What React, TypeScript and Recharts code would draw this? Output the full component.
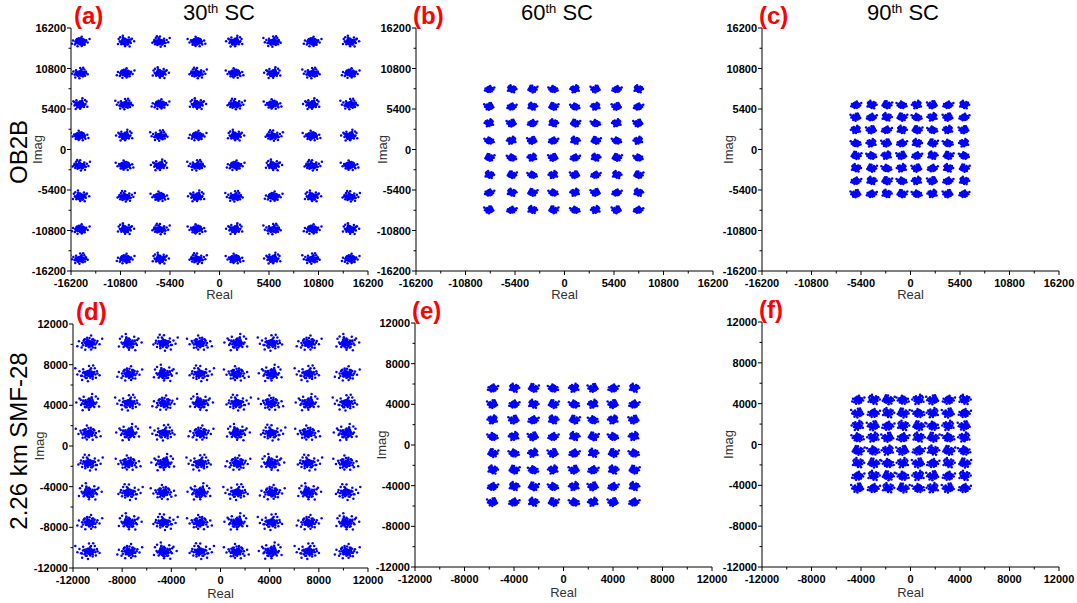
import React from "react";
import { ScatterChart, Scatter, XAxis, YAxis } from "recharts";

const COLS_A = [-15200, -10300, -6500, -2450, 1700, 5850, 10100, 14250];
const ROWS_A = [14350, 10150, 6000, 1800, -2150, -6300, -10650, -14600];
const COLS_B = [-8200, -5760, -3510, -1220, 1150, 3400, 5700, 8050];
const ROWS_B = [8030, 5710, 3490, 1170, -1090, -3400, -5760, -8070];
const COLS_C = [-5950, -4250, -2600, -950, 700, 2400, 4100, 5850];
const ROWS_C = [5930, 4290, 2600, 830, -830, -2510, -4200, -5930];
const COLS_D = [-10700, -7450, -4600, -1650, 1350, 4150, 7150, 10250];
const ROWS_D = [10100, 7080, 4200, 1250, -1700, -4590, -7540, -10400];
const COLS_E = [-5720, -4000, -2440, -830, 870, 2400, 4020, 5700];
const ROWS_E = [5580, 4000, 2460, 820, -820, -2460, -4100, -5640];
const COLS_F = [-4250, -2990, -1820, -610, 650, 1810, 3070, 4360];
const ROWS_F = [4360, 3060, 1810, 670, -610, -1840, -3090, -4290];

const TICKS_OB2B = [-16200, -13500, -10800, -8100, -5400, -2700, 0, 2700, 5400, 8100, 10800, 13500, 16200];
const MAJOR_OB2B = [-16200, -10800, -5400, 0, 5400, 10800, 16200];
const TICKS_SMF = [-12000, -10000, -8000, -6000, -4000, -2000, 0, 2000, 4000, 6000, 8000, 10000, 12000];
const MAJOR_SMF = [-12000, -8000, -4000, 0, 4000, 8000, 12000];

// hand-drawn noise cloud shapes (offsets around a symbol, in units of the spread)
const CLOUD_1 = [
  [0, 0], [0.35, 0.1], [-0.3, 0.15], [0.1, -0.4], [-0.25, -0.3], [0.6, -0.15],
  [-0.65, 0.05], [0.4, 0.5], [-0.45, 0.45], [0.05, 0.65], [0.2, -0.75], [-0.7, -0.5],
  [0.8, 0.3], [-0.15, 0.3], [0.6, -0.55], [-0.95, 0.25], [1.0, -0.1], [0.2, 0.95],
  [-0.35, -0.8], [0.45, 0.05], [-0.05, -0.15], [0.3, -0.3], [1.25, 0.55], [-1.1, -0.35],
];
const CLOUD_2 = [
  [0.05, 0.05], [-0.4, -0.05], [0.3, 0.3], [-0.1, 0.45], [0.15, -0.25], [-0.55, 0.35],
  [0.7, 0.1], [-0.3, -0.5], [0.5, -0.45], [-0.75, -0.2], [0.25, 0.75], [-0.5, 0.8],
  [0.85, 0.55], [0.0, -0.8], [-0.9, 0.6], [0.95, -0.4], [-0.2, 0.1], [0.4, -0.05],
  [-0.6, -0.85], [0.65, 0.85], [0.1, -0.5], [-0.35, 0.2], [-1.2, 0.1], [0.3, 1.15],
];
const CLOUD_3 = [
  [-0.05, 0], [0.25, -0.1], [-0.25, -0.2], [0.0, 0.35], [0.45, 0.25], [-0.5, 0.25],
  [0.3, -0.5], [-0.35, -0.6], [0.75, -0.2], [-0.8, 0.05], [0.55, 0.6], [-0.2, 0.7],
  [0.1, -0.9], [-0.65, -0.45], [0.9, 0.35], [-0.55, 0.7], [0.2, 0.15], [-0.15, -0.05],
  [0.65, -0.75], [-1.0, -0.15], [1.1, -0.05], [0.0, 1.0], [-0.4, 1.05], [1.3, 0.7],
];
const CLOUDS = [CLOUD_1, CLOUD_2, CLOUD_3];
// outer cloud, then tighter cores drawn from the other shapes
const LAYER_SCALE = [1, 0.6, 0.32];

const FONT = "'Liberation Sans', Arial, sans-serif";
const BLUE = "#0000ff";

function buildPoints(cols: number[], rows: number[], sx: number, sy: number, layers: number) {
  const pts: { x: number; y: number }[] = [];
  rows.forEach((cy, r) => {
    cols.forEach((cx, c) => {
      const k = (r * 8 + c) % 3;
      const flip = (r + c) % 2 === 0 ? 1 : -1;
      for (let l = 0; l < layers; l++) {
        const s = LAYER_SCALE[l];
        const f = l % 2 === 0 ? flip : -flip;
        CLOUDS[(k + l) % 3].forEach(([dx, dy]) =>
          pts.push({ x: cx + dx * sx * s * f, y: cy + dy * sy * s })
        );
      }
    });
  });
  return pts;
}

const panels = [
  { id: "a", left: 71, top: 28, w: 297, h: 243, cols: COLS_A, rows: ROWS_A, sx: 820, sy: 720, layers: 3, ticks: TICKS_OB2B, majors: MAJOR_OB2B, realDy: 28 },
  { id: "b", left: 416, top: 28, w: 297, h: 243, cols: COLS_B, rows: ROWS_B, sx: 430, sy: 460, layers: 2, ticks: TICKS_OB2B, majors: MAJOR_OB2B, realDy: 28 },
  { id: "c", left: 762, top: 28, w: 297, h: 243, cols: COLS_C, rows: ROWS_C, sx: 460, sy: 490, layers: 2, ticks: TICKS_OB2B, majors: MAJOR_OB2B, realDy: 28 },
  { id: "d", left: 73, top: 324, w: 295, h: 244, cols: COLS_D, rows: ROWS_D, sx: 860, sy: 800, layers: 3, ticks: TICKS_SMF, majors: MAJOR_SMF, realDy: 30 },
  { id: "e", left: 415, top: 323, w: 297, h: 244, cols: COLS_E, rows: ROWS_E, sx: 350, sy: 390, layers: 2, ticks: TICKS_SMF, majors: MAJOR_SMF, realDy: 30 },
  { id: "f", left: 762, top: 322, w: 297, h: 245, cols: COLS_F, rows: ROWS_F, sx: 420, sy: 450, layers: 2, ticks: TICKS_SMF, majors: MAJOR_SMF, realDy: 30 },
];

const titles = [
  { n: "30", x: 219 },
  { n: "60", x: 557 },
  { n: "90", x: 903 },
];

const dot = (props: any) => <circle cx={props.cx} cy={props.cy} r={1.25} fill={BLUE} />;

const makeTick = (side: string, majors: number[]) => (props: any) => {
  const { x, y, payload } = props;
  const major = majors.includes(payload.value);
  const len = major ? 4 : 2.5;
  if (side === "bottom") {
    return (
      <g>
        <line x1={x} y1={y} x2={x} y2={y + len} stroke="#000" />
        {major && (
          <text x={x} y={y + 16} textAnchor="middle" fontSize={11} fontWeight="bold" fontFamily={FONT} fill="#000">
            {payload.value}
          </text>
        )}
      </g>
    );
  }
  if (side === "left") {
    return (
      <g>
        <line x1={x - len} y1={y} x2={x} y2={y} stroke="#000" />
        {major && (
          <text x={x - 5} y={y + 4} textAnchor="end" fontSize={11} fontWeight="bold" fontFamily={FONT} fill="#000">
            {payload.value}
          </text>
        )}
      </g>
    );
  }
  if (side === "top") {
    return <line x1={x} y1={y} x2={x} y2={y + len} stroke="#000" />;
  }
  return <line x1={x - len} y1={y} x2={x} y2={y} stroke="#000" />;
};

type PanelProps = { p: (typeof panels)[number] };

const Panel: React.FC<PanelProps> = ({ p }) => {
  const padL = 60;
  const padT = 10;
  const padR = 26;
  const padB = 30;
  const data = buildPoints(p.cols, p.rows, p.sx, p.sy, p.layers);
  const lim = p.ticks[p.ticks.length - 1];
  const dom: [number, number] = [-lim, lim];
  const common = {
    type: "number" as const,
    domain: dom,
    ticks: p.ticks,
    interval: 0 as const,
    tickSize: 0,
    tickMargin: 0,
    tickLine: false,
    allowDataOverflow: true,
    axisLine: { stroke: "#000", strokeWidth: 1 },
  };
  return (
    <div style={{ position: "absolute", left: p.left - padL, top: p.top - padT }}>
      <ScatterChart
        width={p.w + padL + padR}
        height={p.h + padT + padB}
        margin={{ top: padT, right: padR, bottom: 0, left: 0 }}
      >
        <XAxis {...common} xAxisId="b" dataKey="x" orientation="bottom" height={padB} tick={makeTick("bottom", p.majors)} />
        <XAxis {...common} xAxisId="t" dataKey="x" orientation="top" height={0} tick={makeTick("top", p.majors)} />
        <YAxis {...common} yAxisId="l" dataKey="y" orientation="left" width={padL} tick={makeTick("left", p.majors)} />
        <YAxis {...common} yAxisId="r" dataKey="y" orientation="right" width={0} tick={makeTick("right", p.majors)} />
        <Scatter data={data} xAxisId="b" yAxisId="l" shape={dot} isAnimationActive={false} />
        <Scatter data={[]} xAxisId="t" yAxisId="r" isAnimationActive={false} />
      </ScatterChart>
    </div>
  );
};

const App: React.FC = () => {
  return (
    <div style={{ position: "absolute", left: 0, top: 0, width: 1077, height: 603, background: "#fff", overflow: "hidden" }}>
      {panels.map((p) => (
        <Panel key={p.id} p={p} />
      ))}
      <svg width={1077} height={603} style={{ position: "absolute", left: 0, top: 0, pointerEvents: "none" }}>
        {panels.map((p) => (
          <g key={p.id}>
            <text
              x={p.id === "a" || p.id === "d" ? p.left + 3 : p.left - 3}
              y={p.top - 4}
              fontSize={24}
              fontWeight="bold"
              fontFamily={FONT}
              fill="#ff0000"
            >
              ({p.id})
            </text>
            <text x={p.left + p.w / 2} y={p.top + p.h + p.realDy} textAnchor="middle" fontSize={13} fontFamily={FONT} fill="#333">
              Real
            </text>
            <text
              transform={`translate(${p.left - 29},${p.top + p.h / 2}) rotate(-90)`}
              textAnchor="middle"
              fontSize={13}
              fontFamily={FONT}
              fill="#333"
            >
              Imag
            </text>
          </g>
        ))}
        {titles.map((t) => (
          <text key={t.n} x={t.x} y={20} textAnchor="middle" fontSize={22} fontFamily={FONT} fill="#000">
            {t.n}
            <tspan fontSize={13} dy={-7}>th</tspan>
            <tspan dy={7}> SC</tspan>
          </text>
        ))}
        <text transform="translate(27,152) rotate(-90)" textAnchor="middle" fontSize={24} fontFamily={FONT} fill="#000">
          OB2B
        </text>
        <text transform="translate(27,441) rotate(-90)" textAnchor="middle" fontSize={24} fontFamily={FONT} fill="#000">
          2.26 km SMF-28
        </text>
      </svg>
    </div>
  );
};

export default App;
